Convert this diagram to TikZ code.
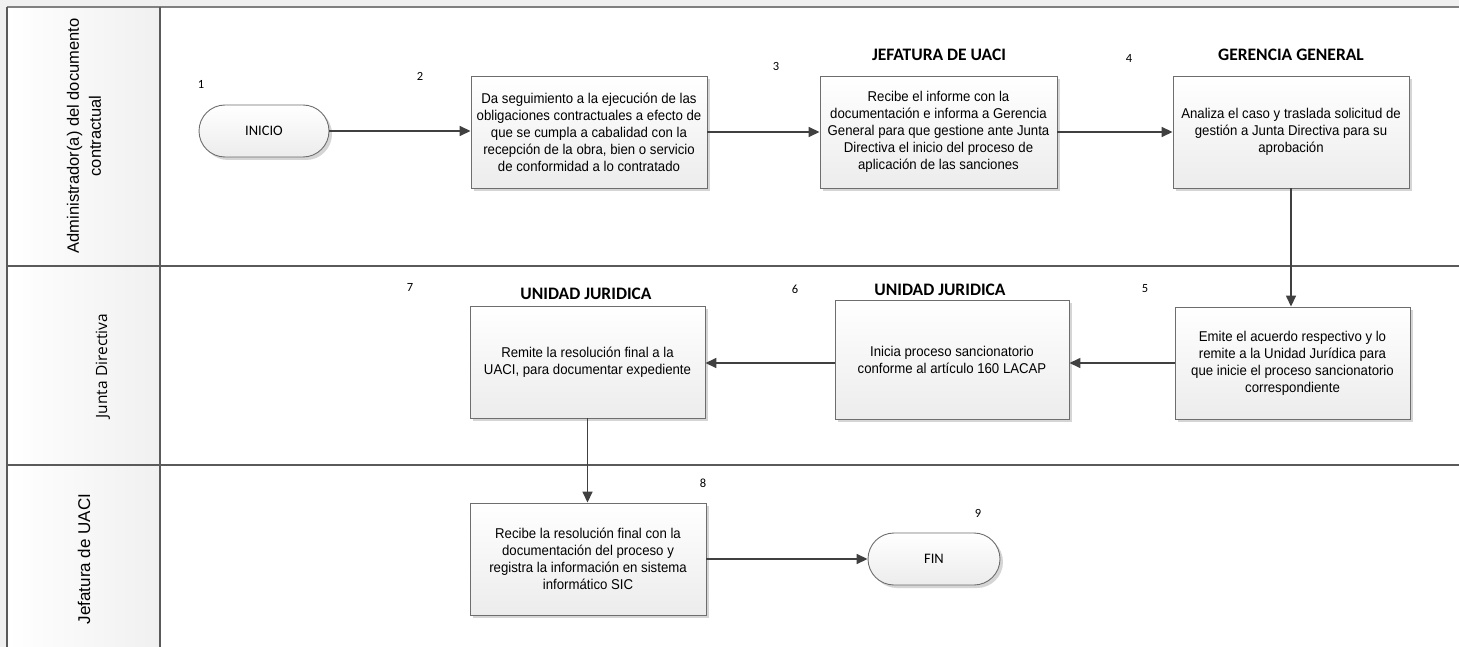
\documentclass[tikz,border=0pt]{standalone}
\usepackage{fontspec}
\setmainfont{Liberation Sans}
\newfontfamily\calfont{Carlito}
\newfontfamily\segfont{Open Sans}
\newfontfamily\boxfont[FakeStretch=0.93]{Liberation Sans}
\usetikzlibrary{arrows.meta,shadows}

\definecolor{bgpale}{HTML}{F0F0F0}
\definecolor{frame}{HTML}{808080}
\definecolor{laneline}{HTML}{5A5A5A}
\definecolor{boxline}{HTML}{6E6E6E}
\definecolor{boxlow}{HTML}{ECECEC}
\definecolor{arrowc}{HTML}{404040}
\definecolor{shade}{HTML}{C4C4C4}

\tikzset{
  procbox/.style={rectangle, draw=boxline, line width=0.9pt,
    top color=white, bottom color=boxlow,
    drop shadow={shadow xshift=3pt, shadow yshift=-3pt, fill=shade, opacity=0.7},
    minimum width=236pt, minimum height=112pt, inner sep=2pt, align=center,
    font=\boxfont\fontsize{14.2}{17}\selectfont},
  termbox/.style={rectangle, rounded corners=26pt, draw=boxline, line width=0.9pt,
    top color=white, bottom color=boxlow,
    drop shadow={shadow xshift=3pt, shadow yshift=-3pt, fill=shade, opacity=0.7},
    minimum width=130pt, minimum height=52pt, inner sep=0pt,
    font=\calfont\fontsize{14.5}{16}\selectfont},
  stepnum/.style={font=\calfont\fontsize{12.5}{14}\selectfont, inner sep=0pt},
  titlelbl/.style={font=\calfont\bfseries\fontsize{17.5}{19}\selectfont, inner sep=0pt},
  flow/.style={draw=arrowc, line width=1.5pt, -{Triangle[length=11pt,width=10pt]}},
  lanetext/.style={rotate=90, align=center, inner sep=0pt},
  laneedge/.style={draw=laneline, line width=1.3pt},
}

\begin{document}
\begin{tikzpicture}[x=1pt, y=-1pt]
  \useasboundingbox (0,0) rectangle (1459,647);

  % pool background and lane header column
  \fill[bgpale] (0,0) rectangle (1459,647);
  \fill[white] (7,7) rectangle (1459,647);
  \shade[left color=white, right color=bgpale] (7,7) rectangle (160,647);

  % pool frame and lane separators
  \draw[frame, line width=2pt] (7,7) -- (1459,7);
  \draw[laneedge] (7,7) -- (7,647);
  \draw[laneedge] (160,7) -- (160,647);
  \draw[laneedge] (7,266) -- (1459,266);
  \draw[laneedge] (7,465) -- (1459,465);

  % lane names
  \node[lanetext, font=\fontsize{16.5}{22}\selectfont] (lane1) at (84,136)
    {Administrador(a) del documento\\contractual};
  \node[lanetext, font=\segfont\fontsize{15.5}{17}\selectfont] (lane2) at (103,366)
    {Junta Directiva};
  \node[lanetext, font=\fontsize{17}{20}\selectfont] (lane3) at (84,559)
    {Jefatura de UACI};

  % process steps
  \node[termbox] (ini) at (264,131) {INICIO};
  \node[procbox] (b2) at (589,132)
    {Da seguimiento a la ejecución de las\\obligaciones contractuales a efecto de\\que se cumpla a cabalidad con la\\recepción de la obra, bien o servicio\\de conformidad a lo contratado};
  \node[procbox, minimum width=237pt] (b3) at (938.5,132)
    {Recibe el informe con la\\documentación e informa a Gerencia\\General para que gestione ante Junta\\Directiva el inicio del proceso de\\aplicación de las sanciones};
  \node[procbox] (b4) at (1291,132)
    {Analiza el caso y traslada solicitud de\\gestión a Junta Directiva para su\\aprobación};
  \node[procbox, minimum width=235pt] (b5) at (1292.5,363)
    {Emite el acuerdo respectivo y lo\\remite a la Unidad Jurídica para\\que inicie el proceso sancionatorio\\correspondiente};
  \node[procbox, minimum width=234pt, minimum height=119pt] (b6) at (952,359.5)
    {Inicia proceso sancionatorio\\conforme al artículo 160 LACAP};
  \node[procbox, minimum width=235pt] (b7) at (587.5,362)
    {Remite la resolución final a la\\UACI, para documentar expediente};
  \node[procbox] (b8) at (588,559)
    {Recibe la resolución final con la\\documentación del proceso y\\registra la información en sistema\\informático SIC};
  \node[termbox, minimum width=132pt] (fin) at (934,559) {FIN};

  % unit titles above steps
  \node[titlelbl] (t3) at (939,55) {JEFATURA DE UACI};
  \node[titlelbl] (t4) at (1291,55) {GERENCIA GENERAL};
  \node[titlelbl] (t6) at (940,290) {UNIDAD JURIDICA};
  \node[titlelbl] (t7) at (586,294) {UNIDAD JURIDICA};

  % step numbers
  \node[stepnum] (n1) at (201,84) {1};
  \node[stepnum] (n2) at (420,76) {2};
  \node[stepnum] (n3) at (776,66) {3};
  \node[stepnum] (n4) at (1129,58) {4};
  \node[stepnum] (n5) at (1145,289) {5};
  \node[stepnum] (n6) at (795,289) {6};
  \node[stepnum] (n7) at (410,287) {7};
  \node[stepnum] (n8) at (703,483) {8};
  \node[stepnum] (n9) at (978,513) {9};

  % flow connectors
  \draw[flow] (ini.east) -- (ini.east -| b2.west);
  \draw[flow] (b2.east) -- (b3.west);
  \draw[flow] (b3.east) -- (b4.west);
  \draw[flow] (b4.south) -- (b4.south |- b5.north);
  \draw[flow] (b5.west) -- (b5.west -| b6.east);
  \draw[flow] (b6.west |- b5.west) -- (b7.east |- b5.west);
  \draw[flow] (b7.south) -- (b7.south |- b8.north);
  \draw[flow] (b8.east) -- (fin.west);
\end{tikzpicture}
\end{document}
